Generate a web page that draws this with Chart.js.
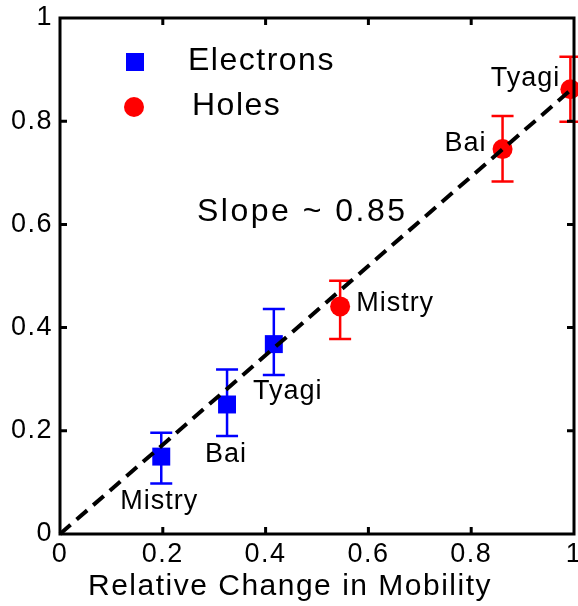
<!DOCTYPE html>
<html>
<head>
<meta charset="utf-8">
<script src="https://cdn.jsdelivr.net/npm/chart.js@4.4.1/dist/chart.umd.min.js"></script>
<style>
  html, body { margin: 0; padding: 0; background: #fff; }
  canvas { display: block; }
</style>
</head>
<body>
<canvas id="mobilityChart" width="578" height="606"></canvas>
<script>
// axis ticks
const xTicks = [0, 0.2, 0.4, 0.6, 0.8, 1];
const yTicks = [0, 0.2, 0.4, 0.6, 0.8, 1];

// electrons
const electronNames = ['Mistry', 'Bai', 'Tyagi'];
const electronX = [0.197, 0.325, 0.416];
const electronY = [0.150, 0.251, 0.368];
const electronLow = [0.098, 0.190, 0.308];
const electronHigh = [0.196, 0.319, 0.436];

// holes
const holeNames = ['Mistry', 'Bai', 'Tyagi'];
const holeX = [0.545, 0.861, 0.993];
const holeY = [0.441, 0.746, 0.862];
const holeLow = [0.378, 0.683, 0.799];
const holeHigh = [0.491, 0.810, 0.925];

// fitted line through the origin
const fitX = [0, 1];
const fitY = [0, 0.866];
const slopeText = 'Slope ~ 0.85';
const xTitle = 'Relative Change in Mobility';

const FONT = "'Liberation Sans', Arial, Helvetica, sans-serif";
const BLUE = '#0000ff';
const RED = '#ff0000';

// label offsets from each marker, in px
const electronLabelOffsets = [[-2, 45], [-1, 50], [14, 47]];
const holeLabelOffsets = [[55, -3], [-37, -6], [-45, -11]];

const toPoints = (xs, ys) => xs.map((x, i) => ({ x, y: ys[i] }));
const noPadding = () => ({ left: 0, top: 0, right: 0, bottom: 0 });

const textSpacing = {
    id: 'textSpacing',
    beforeDraw(chart) {
        chart.ctx.letterSpacing = '1.5px';
    },
};

const errorBars = {
    id: 'errorBars',
    beforeDatasetsDraw(chart) {
        const { ctx, scales: { x, y } } = chart;
        chart.data.datasets.forEach((ds) => {
            if (!ds.errLow) return;
            ctx.save();
            ctx.strokeStyle = ds.borderColor;
            ctx.lineWidth = 2.5;
            ds.data.forEach((p, i) => {
                const px = x.getPixelForValue(p.x);
                const lo = y.getPixelForValue(ds.errLow[i]);
                const hi = y.getPixelForValue(ds.errHigh[i]);
                ctx.beginPath();
                ctx.moveTo(px, lo);
                ctx.lineTo(px, hi);
                ctx.moveTo(px - 11, lo);
                ctx.lineTo(px + 11, lo);
                ctx.moveTo(px - 11, hi);
                ctx.lineTo(px + 11, hi);
                ctx.stroke();
            });
            ctx.restore();
        });
    },
};

const annotations = {
    id: 'annotations',
    afterDraw(chart) {
        const { ctx, chartArea: area, scales: { x, y } } = chart;
        ctx.save();

        // frame with inward ticks
        ctx.strokeStyle = '#000';
        ctx.lineWidth = 3;
        ctx.strokeRect(area.left, area.top, area.right - area.left, area.bottom - area.top);
        ctx.beginPath();
        xTicks.slice(1, -1).forEach((v) => {
            const px = x.getPixelForValue(v);
            ctx.moveTo(px, area.bottom);
            ctx.lineTo(px, area.bottom - 7);
            ctx.moveTo(px, area.top);
            ctx.lineTo(px, area.top + 7);
        });
        yTicks.slice(1, -1).forEach((v) => {
            const py = y.getPixelForValue(v);
            ctx.moveTo(area.left, py);
            ctx.lineTo(area.left + 7, py);
            ctx.moveTo(area.right, py);
            ctx.lineTo(area.right - 7, py);
        });
        ctx.stroke();

        // point labels
        ctx.fillStyle = '#000';
        ctx.textAlign = 'center';
        ctx.textBaseline = 'middle';
        ctx.letterSpacing = '1px';
        ctx.font = `27px ${FONT}`;
        const labelSet = (names, xs, ys, offsets) => {
            names.forEach((name, i) => {
                const px = x.getPixelForValue(xs[i]) + offsets[i][0];
                const py = y.getPixelForValue(ys[i]) + offsets[i][1];
                ctx.fillText(name, px, py);
            });
        };
        labelSet(electronNames, electronX, electronY, electronLabelOffsets);
        labelSet(holeNames, holeX, holeY, holeLabelOffsets);

        // legend
        ctx.textAlign = 'left';
        ctx.font = `32px ${FONT}`;
        ctx.letterSpacing = '1.5px';
        ctx.fillStyle = BLUE;
        ctx.fillRect(area.left + 66, area.top + 35, 18, 18);
        ctx.fillStyle = RED;
        ctx.beginPath();
        ctx.arc(area.left + 74, area.top + 89, 10, 0, Math.PI * 2);
        ctx.fill();
        ctx.fillStyle = '#000';
        ctx.fillText('Electrons', area.left + 128, area.top + 43);
        ctx.fillText('Holes', area.left + 132, area.top + 88);

        // slope note
        ctx.letterSpacing = '2.5px';
        ctx.fillText(slopeText, area.left + 137, area.top + 194);

        // axis title
        ctx.textAlign = 'center';
        ctx.letterSpacing = '1.5px';
        ctx.font = `30px ${FONT}`;
        ctx.fillText(xTitle, area.left + 230, area.bottom + 53);

        ctx.restore();
    },
};

new Chart(document.getElementById('mobilityChart'), {
    data: {
        datasets: [
            {
                type: 'line',
                label: 'Fit',
                data: toPoints(fitX, fitY),
                borderColor: '#000',
                borderWidth: 4,
                borderDash: [14, 8],
                pointRadius: 0,
                fill: false,
                order: 0,
                clip: false,
            },
            {
                type: 'scatter',
                label: 'Electrons',
                data: toPoints(electronX, electronY),
                errLow: electronLow,
                errHigh: electronHigh,
                pointStyle: 'rect',
                pointRadius: 12.7,
                pointHoverRadius: 12.7,
                backgroundColor: BLUE,
                borderColor: BLUE,
                borderWidth: 0,
                order: 1,
                clip: false,
            },
            {
                type: 'scatter',
                label: 'Holes',
                data: toPoints(holeX, holeY),
                errLow: holeLow,
                errHigh: holeHigh,
                pointStyle: 'circle',
                pointRadius: 10,
                pointHoverRadius: 10,
                backgroundColor: RED,
                borderColor: RED,
                borderWidth: 0,
                order: 2,
                clip: false,
            },
        ],
    },
    options: {
        responsive: false,
        animation: false,
        devicePixelRatio: 1,
        layout: {
            autoPadding: false,
            padding: { top: 18, right: 4, left: 0, bottom: 0 },
        },
        plugins: {
            legend: { display: false },
            tooltip: { enabled: false },
        },
        scales: {
            x: {
                type: 'linear',
                min: 0,
                max: 1,
                afterBuildTicks: (s) => { s.ticks = xTicks.map((v) => ({ value: v })); },
                afterFit: (s) => {
                    s.height = 72;
                    s.paddingLeft = 0;
                    s.paddingRight = 0;
                    s.getPadding = noPadding;
                },
                ticks: {
                    color: '#000',
                    font: { family: FONT, size: 27 },
                    padding: 4,
                    maxRotation: 0,
                    autoSkip: false,
                    callback: (v) => String(v),
                },
                grid: { display: false, drawTicks: false },
                border: { display: false },
            },
            y: {
                type: 'linear',
                min: 0,
                max: 1,
                afterBuildTicks: (s) => { s.ticks = yTicks.map((v) => ({ value: v })); },
                afterFit: (s) => {
                    s.width = 60;
                    s.paddingTop = 0;
                    s.paddingBottom = 0;
                    s.getPadding = noPadding;
                },
                ticks: {
                    color: '#000',
                    font: { family: FONT, size: 27 },
                    padding: 7,
                    autoSkip: false,
                    callback: (v) => String(v),
                },
                grid: { display: false, drawTicks: false },
                border: { display: false },
            },
        },
    },
    plugins: [textSpacing, errorBars, annotations],
});
</script>
</body>
</html>
